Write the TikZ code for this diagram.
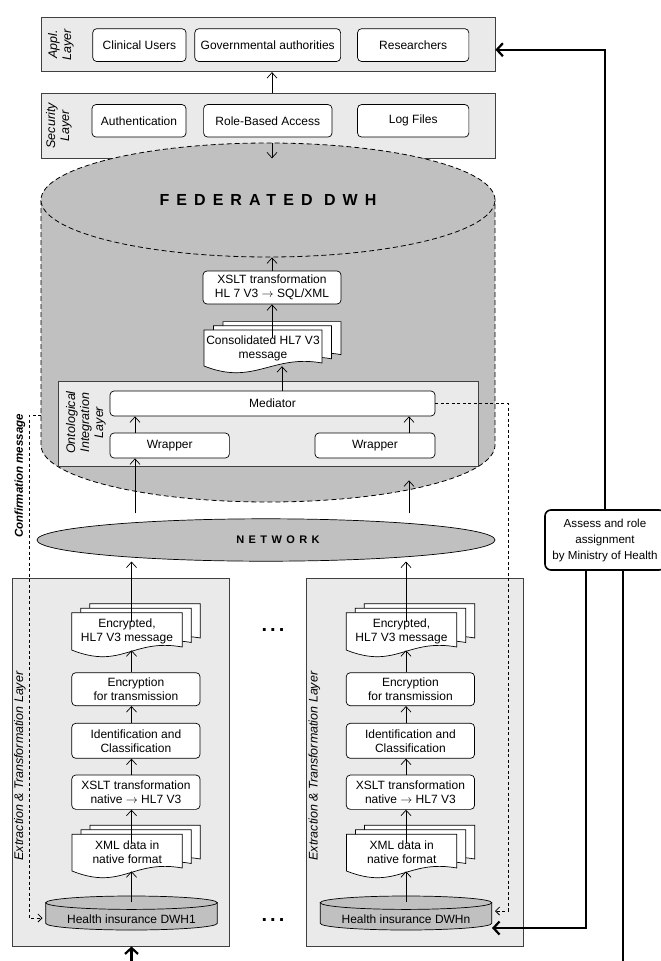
\documentclass[tikz,border=0pt]{standalone}
\usepackage{fontspec}
\setmainfont{Liberation Sans}
\usetikzlibrary{arrows.meta,shapes.geometric}
\definecolor{dwhgray}{RGB}{192,192,192}
\definecolor{laygray}{RGB}{234,234,234}

\begin{document}
\begin{tikzpicture}[x=1pt,y=-1pt,
    txt/.style={font=\fontsize{12}{14}\selectfont},
    layer/.style={draw=black!75,fill=laygray,line width=0.8pt,inner sep=0pt},
    item/.style={draw,fill=white,rounded corners=4pt,line width=0.7pt,txt,align=center,inner sep=0pt},
    laylabel/.style={font=\itshape\fontsize{12.5}{14}\selectfont,rotate=90,align=center},
    docpage/.style={draw,fill=white,line width=0.7pt},
    arr/.style={line width=0.7pt,-{Straight Barb[length=5.5pt,width=10pt]}},
    heavy/.style={line width=2.2pt},
    heavyarr/.style={heavy,-{Straight Barb[length=6pt,width=13pt]}},
    conf/.style={line width=0.8pt,dash pattern=on 3pt off 2.5pt,-{Straight Barb[length=4pt,width=8pt]}}]

    \useasboundingbox (0,0) rectangle (661,961);

    % Application and security layers
    \node[layer,minimum width=454,minimum height=54] (appl) at (268,44.7) {};
    \node[laylabel] at (61,44.7) {Appl.\\Layer};
    \node[item,minimum width=93.3,minimum height=32.8] (clin) at (139.4,45.1) {Clinical Users};
    \node[item,minimum width=145.8,minimum height=32.8] (gov) at (267.7,45.1) {Governmental authorities};
    \node[item,minimum width=111.3,minimum height=32.8] (res) at (413.2,45.1) {Researchers};

    \node[layer,minimum width=454,minimum height=64.4] (sec) at (268,125.8) {};
    \node[laylabel] at (59,125.8) {Security\\Layer};
    \node[item,minimum width=94,minimum height=32.5] (auth) at (139,120.8) {Authentication};
    \node[item,minimum width=128.4,minimum height=32.5] (rbac) at (267.8,120.8) {Role-Based Access};
    \node[item,minimum width=111.3,minimum height=32.5] (logs) at (413.2,120.8) {Log Files};

    % Federated DWH cylinder
    \fill[dwhgray] (41,200) -- (41,445) arc[start angle=180,end angle=360,x radius=227pt,y radius=57pt] -- (495,200) -- cycle;
    \draw[line width=0.8pt,dash pattern=on 5pt off 3pt] (41,200) -- (41,445) arc[start angle=180,end angle=360,x radius=227pt,y radius=57pt] -- (495,200);
    \node[ellipse,draw,fill=dwhgray,line width=0.8pt,dash pattern=on 5pt off 3pt,minimum width=454,minimum height=114,inner sep=0pt,
        font=\bfseries\fontsize{16}{18}\selectfont\addfontfeature{LetterSpace=44}] (lid) at (268,200) {FEDERATED DWH};

    \node[item,minimum width=138,minimum height=33] (hlsql) at (272,287.5) {XSLT transformation\\HL 7 V3 $\rightarrow$ SQL/XML};
    \foreach \s in {2,1,0}
        \filldraw[docpage,shift={(9.5*\s,-4.2*\s)}] (204,330) -- ++(118,0) -- ++(0,33) .. controls +(-50,-9) and +(50,20) .. (204,366) -- cycle;
    \node[txt,align=center,minimum width=118,minimum height=36,inner sep=0pt] (cons) at (263,348) {Consolidated HL7 V3\\message};

    % Ontological integration layer
    \node[layer,minimum width=420,minimum height=85] (onto) at (268,424.2) {};
    \node[laylabel] at (86,422.5) {Ontological\\Integration\\Layer};
    \node[item,minimum width=325,minimum height=25] (med) at (272.5,403.5) {Mediator};
    \node[item,minimum width=119.3,minimum height=25] (wrapl) at (169.7,445.5) {Wrapper};
    \node[item,minimum width=120,minimum height=25] (wrapr) at (375,445.5) {Wrapper};

    % Network
    \node[ellipse,draw,fill=dwhgray,line width=0.7pt,minimum width=458,minimum height=42.4,inner sep=0pt] (net) at (266,540) {};
    \node[font=\bfseries\fontsize{11}{12}\selectfont\addfontfeature{LetterSpace=40}] (nettxt) at (278,540) {NETWORK};

    % Extraction columns
    \foreach \cx/\bx/\id in {0/0/1,274.5/294.5/n} {
        \node[layer,minimum width=217,minimum height=367.7] (ext\id) at (120.8+\bx,762.2) {};
        \node[laylabel] at (20+\bx,766) {Extraction \& Transformation Layer};
        \filldraw[fill=dwhgray,line width=0.7pt] (45.7+\cx,902.7) -- (45.7+\cx,923.3) arc[start angle=180,end angle=360,x radius=85.8pt,y radius=6.7pt] -- (217.3+\cx,902.7);
        \filldraw[fill=dwhgray,line width=0.7pt] (131.5+\cx,902.7) ellipse[x radius=85.8pt,y radius=6.7pt];
        \node[txt,minimum width=171.6,minimum height=33,inner sep=0pt] (dwh\id) at (131.5+\cx,919) {Health insurance DWH\id};
        \foreach \s in {2,1,0} {
            \filldraw[docpage,shift={(9*\s,-4.5*\s)}] (72+\cx,834.3) -- ++(110.3,0) -- ++(0,33.7) .. controls +(-50,-9) and +(50,20) .. (72+\cx,871) -- cycle;
            \filldraw[docpage,shift={(9*\s,-4.5*\s)}] (71.7+\cx,612.7) -- ++(110.6,0) -- ++(0,34.3) .. controls +(-50,-9) and +(50,20) .. (71.7+\cx,650) -- cycle;
        }
        \node[txt,align=center,minimum width=110.3,minimum height=36.7,inner sep=0pt] (xml\id) at (127.2+\cx,852.7) {XML data in\\native format};
        \node[txt,align=center,minimum width=110.6,minimum height=37.3,inner sep=0pt] (msg\id) at (127+\cx,631.4) {Encrypted,\\HL7 V3 message};
        \node[item,minimum width=128.3,minimum height=34.3] (xslt\id) at (135.9+\cx,792.2) {XSLT transformation\\native $\rightarrow$ HL7 V3};
        \node[item,minimum width=128.3,minimum height=35] (ident\id) at (135.9+\cx,740.8) {Identification and\\Classification};
        \node[item,minimum width=128.3,minimum height=33] (encr\id) at (135.9+\cx,689.2) {Encryption\\for transmission};
        % flow upwards
        \draw[arr] (dwh\id.north) -- (dwh\id.north |- xml\id.south);
        \draw[arr,shorten <=-9pt] (xml\id.north -| dwh\id.north) -- (xslt\id.south -| dwh\id.north);
        \draw[arr] (xslt\id.north -| dwh\id.north) -- (ident\id.south -| dwh\id.north);
        \draw[arr] (ident\id.north -| dwh\id.north) -- (encr\id.south -| dwh\id.north);
        \draw[arr] (encr\id.north -| dwh\id.north) -- (msg\id.south -| dwh\id.north);
        \draw[arr,shorten <=-9pt] (msg\id.north -| dwh\id.north) -- (net.south -| dwh\id.north);
    }
    \node[font=\bfseries\fontsize{20}{20}\selectfont\addfontfeature{LetterSpace=15}] (dotsa) at (273,630) {...};
    \node[font=\bfseries\fontsize{20}{20}\selectfont\addfontfeature{LetterSpace=15}] (dotsb) at (273,920) {...};

    % Into and through the federated DWH
    \coordinate (inl) at ([xshift=-34.7pt]wrapl.south);
    \coordinate (inr) at ([xshift=34pt,yshift=-22pt]wrapr.south);
    \draw[arr,shorten <=5pt] (inl |- net.north) -- (inl);
    \draw[arr,shorten <=5pt] (inr |- net.north) -- (inr);
    \draw[arr] (inl |- wrapl.north) -- (inl |- med.south);
    \draw[arr] (inr |- wrapr.north) -- (inr |- med.south);
    \coordinate (medout) at ([xshift=9.5pt]med.north);
    \draw[arr] (medout) -- (medout |- cons.south);
    \draw[arr,shorten <=-8.5pt] (cons.north -| hlsql.north) -- (hlsql.south);
    \draw[arr] (hlsql.north) -- (hlsql.north |- lid.south);
    \draw[arr] (lid.north -| hlsql.north) -- (sec.south -| hlsql.north);
    \draw[arr] (sec.north -| hlsql.north) -- (appl.south -| hlsql.north);

    % Confirmation message
    \coordinate (confl) at (41,415);
    \draw[conf] (confl) -| (29,918) -- ([xshift=-3pt,yshift=1pt]dwh1.west);
    \draw[conf] (med.east) -| (508,911) -- ([xshift=3pt,yshift=8pt]dwhn.east);
    \node[font=\bfseries\itshape\fontsize{11.5}{12}\selectfont,rotate=90] (confmsg) at (20,476) {Confirmation message};

    % Ministry of Health
    \node[draw,fill=white,rounded corners=6pt,line width=1.6pt,minimum width=120,minimum height=60,align=center,
        font=\fontsize{11.6}{16}\selectfont] (assess) at (605,540) {Assess and role\\assignment\\by Ministry of Health};
    \coordinate (assessa) at ([xshift=-19pt]assess.south);
    \coordinate (assessb) at ([xshift=18pt]assess.south);
    \draw[heavyarr] (assess.north) |- ([yshift=-5pt]appl.east);
    \draw[heavyarr] (assessa) |- ([yshift=-9pt]dwhn.east);
    \draw[heavy] (assessb) -- (assessb |- 0,961);
    \draw[heavyarr] (dwh1 |- 0,961) -- (dwh1 |- ext1.south);

\end{tikzpicture}
\end{document}
